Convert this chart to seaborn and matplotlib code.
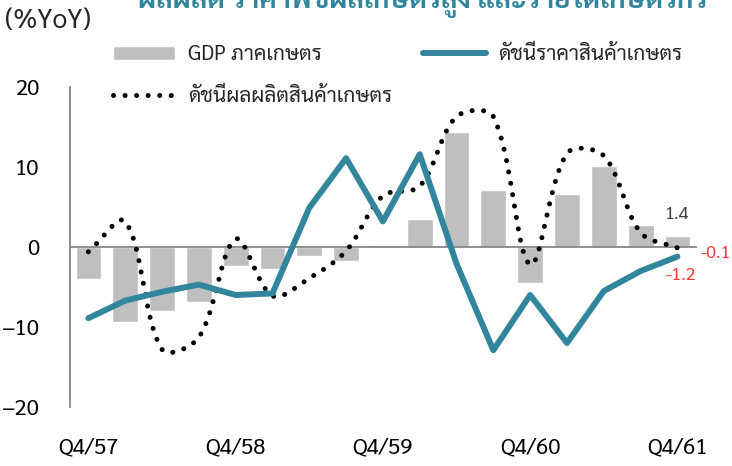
import numpy as np
import pandas as pd
import matplotlib
matplotlib.use("Agg")
import matplotlib.pyplot as plt
import seaborn as sns

# ไตรมาส Q4/57 - Q4/61
quarters = ["Q4/57", "Q1/58", "Q2/58", "Q3/58", "Q4/58", "Q1/59", "Q2/59", "Q3/59",
            "Q4/59", "Q1/60", "Q2/60", "Q3/60", "Q4/60", "Q1/61", "Q2/61", "Q3/61", "Q4/61"]
gdp_agri = [-4.0, -9.4, -8.0, -6.9, -2.4, -2.8, -1.1, -1.7, 0.3, 3.5, 14.4, 7.1,
            -4.5, 6.6, 10.1, 2.7, 1.4]
price_index = [-8.9, -6.7, -5.6, -4.7, -6.0, -5.8, 4.9, 11.1, 3.2, 11.6, -2.1, -12.9,
               -6.0, -12.0, -5.5, -3.0, -1.2]
prod_index = [-0.6, 3.2, -12.8, -11.3, 1.0, -6.1, -3.9, -0.5, 6.4, 7.6, 16.3, 16.3,
              -2.2, 11.7, 11.4, 1.8, -0.1]
tick_labels = ["Q4/57", "Q4/58", "Q4/59", "Q4/60", "Q4/61"]

title = "ผลผลิต ราคาพืชผลเกษตรสูง และรายได้เกษตรกร"
lab_gdp = "GDP ภาคเกษตร"
lab_price = "ดัชนีราคาสินค้าเกษตร"
lab_prod = "ดัชนีผลผลิตสินค้าเกษตร"

teal = "#31859C"
grey = "#868686"

sns.set_style("white")
plt.rcParams["font.family"] = ["Sarabun", "Noto Sans Thai", "DejaVu Sans"]

df = pd.DataFrame({"q": quarters, "gdp": gdp_agri, "price": price_index,
                   "prod": prod_index, "x": np.arange(len(quarters))})


def smooth(y, sx=36.8, sy=8.0, n=24):
    # เส้นโค้งแบบ Excel (Bezier ถ่วงตามความยาวช่วง) ใช้แค่ตอนวาด
    P = np.column_stack([np.arange(len(y)) * sx, np.asarray(y, float) * sy])
    t = np.linspace(0, 1, n, endpoint=False)[:, None]
    out = []
    for i in range(len(P) - 1):
        p1, p2 = P[i], P[i + 1]
        p0 = P[i - 1] if i > 0 else p1
        p3 = P[i + 2] if i + 2 < len(P) else p2
        l01, l12, l23 = [np.hypot(*d) for d in (p1 - p0, p2 - p1, p3 - p2)]
        c1 = p1 + (p2 - p0) * l12 / (l01 + l12) / 3
        c2 = p2 - (p3 - p1) * l12 / (l12 + l23) / 3
        out.append((1 - t) ** 3 * p1 + 3 * (1 - t) ** 2 * t * c1
                   + 3 * (1 - t) * t ** 2 * c2 + t ** 3 * p2)
    out.append(P[-1:])
    B = np.vstack(out)
    return B[:, 0] / sx, B[:, 1] / sy


fig = plt.figure(figsize=(7.32, 4.66), dpi=100)
ax = fig.add_axes([0.0956, 0.1266, 0.855, 0.6867])

sns.barplot(data=df, x="q", y="gdp", color="#BFBFBF", saturation=1, width=0.7,
            ax=ax, label=lab_gdp, zorder=2)
sx, sy = smooth(prod_index)
sm = pd.DataFrame({"x": sx, "y": sy})
sns.lineplot(data=sm, x="x", y="y", ax=ax, color="black", lw=3.6, sort=False, estimator=None,
             linestyle=(0, (0.01, 2.3)), dash_capstyle="round", label=lab_prod, zorder=3)
sns.lineplot(data=df, x="x", y="price", ax=ax, color=teal, lw=4.3,
             solid_capstyle="round", label=lab_price, zorder=4)

ax.set_xlim(-0.5, len(quarters) - 0.5)
ax.set_ylim(-20, 20)
ax.set_yticks([-20, -10, 0, 10, 20])
ax.set_xlabel("")
ax.set_ylabel("")

for s in ["top", "right"]:
    ax.spines[s].set_visible(False)
ax.spines["left"].set_color(grey)
ax.spines["left"].set_linewidth(1.3)
ax.spines["bottom"].set_position(("data", 0))
ax.spines["bottom"].set_color(grey)
ax.spines["bottom"].set_linewidth(1.3)
ax.spines["bottom"].set_zorder(2.5)
ax.set_xticks(np.arange(1.5, len(quarters) - 1, 2))
ax.set_xticklabels([])
ax.tick_params(axis="x", length=7, width=1.3, color=grey, direction="out")
ax.tick_params(axis="y", length=8, width=1.3, color=grey, pad=14, labelsize=16, labelcolor="black")

sec = ax.secondary_xaxis("bottom")
sec.set_xticks(np.arange(0, len(quarters), 4))
sec.set_xticklabels(tick_labels)
sec.spines["bottom"].set_visible(False)
sec.tick_params(length=0, pad=22, labelsize=16, labelcolor="black")

# ตัวเลขล่าสุด
ax.text(16, gdp_agri[-1] + 2.7, f"{gdp_agri[-1]:.1f}", ha="center", va="center",
        fontsize=13, color="#404040")
ax.text(17.05, prod_index[-1] - 0.75, f"{prod_index[-1]:.1f}", ha="center", va="center",
        fontsize=13, color="#FF3B3B", clip_on=False)
ax.text(16.1, price_index[-1] - 2.3, f"{price_index[-1]:.1f}", ha="center", va="center",
        fontsize=13, color="#FF3B3B", clip_on=False)

h, l = ax.get_legend_handles_labels()
order = [l.index(lab_gdp), l.index(lab_prod), l.index(lab_price)]
ax.legend([h[i] for i in order], [l[i] for i in order], ncol=2, frameon=False,
          loc="upper left", bbox_to_anchor=(0.154, 0.905), bbox_transform=fig.transFigure,
          fontsize=15, handlelength=3.0, handletextpad=0.6, labelspacing=1.0,
          columnspacing=1.5, borderpad=0, borderaxespad=0)

fig.text(0.007, 0.955, "(%YoY)", fontsize=19, va="center", ha="left")
fig.text(0.577, 0.983, title, fontsize=20, fontweight="bold", color=teal,
         ha="center", va="baseline")

fig.savefig("out.png", dpi=100)
